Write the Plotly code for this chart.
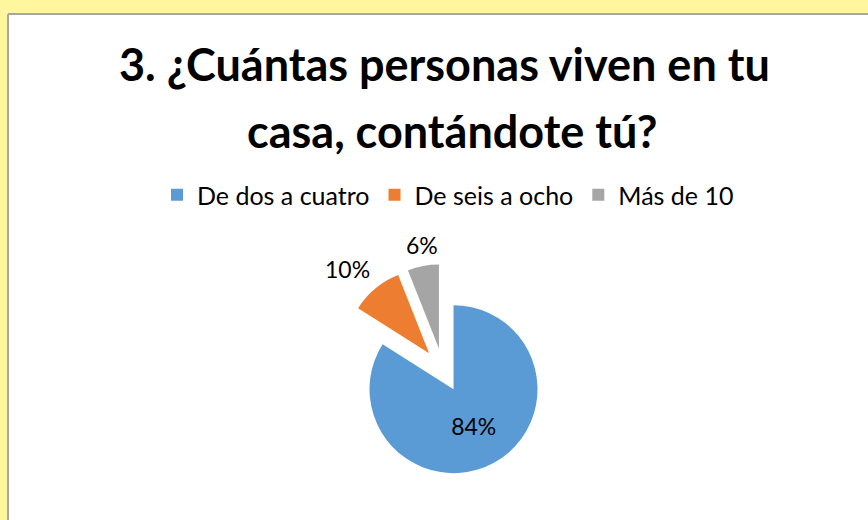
import math
import plotly.graph_objects as go

W, H = 868, 520

labels = ["De dos a cuatro", "De seis a ocho", "Más de 10"]
values = [84, 10, 6]
colors = ["#5B9BD5", "#ED7D31", "#A5A5A5"]
pulls = [0.26, 0.26, 0.26]
label_pos = ["inside", "outside", "outside"]

title_lines = ["3. ¿Cuántas personas viven en tu", "casa, contándote tú?"]

# pie centre / radius in pixels (figure has no margins, paper == page)
cx, cy, r = 443, 370, 84
half = r * (1 + max(pulls))

fig = go.Figure()
fig.add_trace(go.Pie(
    labels=labels,
    values=values,
    sort=False,
    direction="clockwise",
    rotation=0,
    pull=pulls,
    marker=dict(colors=colors, line=dict(width=0)),
    texttemplate=["%{percent:.0%}" if p == "inside" else "" for p in label_pos],
    textposition="inside",
    insidetextorientation="horizontal",
    textfont=dict(family="Lato", size=23, color="#000000"),
    domain=dict(x=[(cx - half) / W, (cx + half) / W],
                y=[1 - (cy + half) / H, 1 - (cy - half) / H]),
    hoverinfo="label+percent",
))

# outside labels placed Excel-style, just past the exploded slice edge
total = sum(values)
start = 0
for v, p, pl in zip(values, label_pos, pulls):
    mid = (start + v / 2) / total * 2 * math.pi
    start += v
    if p != "outside":
        continue
    dist = r * (1 + pl) + 5
    px = cx + dist * math.sin(mid)
    py = cy - dist * math.cos(mid)
    xa = "right" if math.sin(mid) < -0.5 else ("left" if math.sin(mid) > 0.5 else "center")
    fig.add_annotation(text="{:.0f}%".format(100 * v / total), x=px / W, y=1 - py / H,
                       xref="paper", yref="paper", showarrow=False, xanchor=xa, yanchor="bottom",
                       font=dict(family="Lato", size=23, color="#000000"))

fig.add_annotation(text="<b>" + title_lines[0] + "</b>", x=444 / W, y=1 - 64 / H,
                   xref="paper", yref="paper", showarrow=False, yanchor="middle",
                   font=dict(family="Lato", size=45, color="#000000"))
fig.add_annotation(text="<b>" + title_lines[1] + "</b>", x=452 / W, y=1 - 131 / H,
                   xref="paper", yref="paper", showarrow=False, yanchor="middle",
                   font=dict(family="Lato", size=45, color="#000000"))

# yellow frame + grey edge like the source screenshot
fig.add_shape(type="rect", xref="paper", yref="paper", x0=8 / W, x1=1.01, y0=-0.01, y1=1 - 14 / H,
              fillcolor="white", line=dict(width=0), layer="below")
fig.add_shape(type="line", xref="paper", yref="paper", x0=8 / W, x1=1.01, y0=1 - 14 / H, y1=1 - 14 / H,
              line=dict(color="#A6A6A6", width=2))
fig.add_shape(type="line", xref="paper", yref="paper", x0=8 / W, x1=8 / W, y0=-0.01, y1=1 - 14 / H,
              line=dict(color="#A6A6A6", width=2))

fig.update_layout(
    width=W, height=H,
    margin=dict(l=0, r=0, t=0, b=0),
    paper_bgcolor="#FFF69E",
    plot_bgcolor="white",
    showlegend=True,
    legend=dict(orientation="h", x=448 / W, xanchor="center", y=1 - 195 / H, yanchor="middle",
                font=dict(family="Lato", size=25, color="#000000"), bgcolor="rgba(0,0,0,0)"),
)

fig.write_html("out.html", config={"displayModeBar": False},
               post_script="document.body.style.margin='0';")
